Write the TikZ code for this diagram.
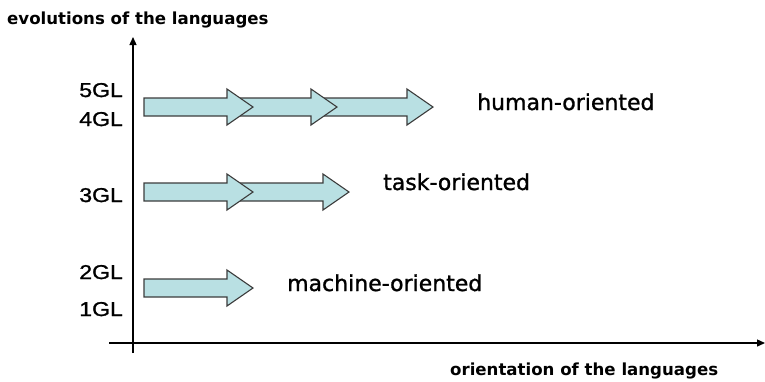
\documentclass[tikz,border=0pt]{standalone}
\usepackage{fontspec}
\usepackage{graphicx}
\setmainfont{DejaVu Sans}
\newfontfamily\arialfont[FakeBold=1.2]{Liberation Sans}
\newfontfamily\labelfont[FakeBold=1.2]{DejaVu Sans}
\usetikzlibrary{arrows.meta}
\definecolor{arrowfill}{RGB}{185,224,227}
\definecolor{arrowline}{RGB}{60,60,60}
\tikzset{
  axisline/.style={line width=1.3pt, black, -{Triangle[length=8pt,width=7pt]}},
  axislabel/.style={font=\bfseries\fontsize{16.6}{19}\selectfont, inner sep=0pt},
  gllabel/.style={font=\arialfont\fontsize{20}{24}\selectfont, inner sep=0pt, anchor=base east},
  orientlabel/.style={font=\labelfont\fontsize{22}{26}\selectfont, inner sep=0pt, anchor=base west},
  blockarrowstyle/.style={fill=arrowfill, draw=arrowline, line width=1.1pt, line join=miter},
  blockarrow/.pic={\path[blockarrowstyle] (0,-9) -- (83,-9) -- (83,-18) -- (109,0) -- (83,18) -- (83,9) -- (0,9) -- cycle;}
}
\begin{document}
\begin{tikzpicture}[x=1pt,y=-1pt]
\useasboundingbox (0,0) rectangle (765,381);
% axes
\coordinate (vbot) at (133,353);
\coordinate (vtop) at (133,37);
\coordinate (hleft) at (109,343);
\coordinate (hright) at (765,343);
\draw[axisline] (vbot) -- (vtop);
\draw[axisline] (hleft) -- (hright);
\node[axislabel, anchor=base west] (ytitle) at (7,24) {evolutions of the languages};
\node[axislabel, anchor=base west] (xtitle) at (450,375) {orientation of the languages};
% GL labels
\node[gllabel] (gl5) at (123,97) {\scalebox{1.15}[1]{5GL}};
\node[gllabel] (gl4) at (123,126) {\scalebox{1.15}[1]{4GL}};
\node[gllabel] (gl3) at (123,202) {\scalebox{1.15}[1]{3GL}};
\node[gllabel] (gl2) at (123,279) {\scalebox{1.15}[1]{2GL}};
\node[gllabel] (gl1) at (123,316) {\scalebox{1.15}[1]{1GL}};
% row 1 (drawn right to left so left arrows lie on top)
\pic at (324,107) {blockarrow};
\pic at (228,107) {blockarrow};
\pic at (144,107) {blockarrow};
% row 2
\pic at (240,192) {blockarrow};
\pic at (144,192) {blockarrow};
% row 3
\pic at (144,288) {blockarrow};
% orientation labels
\node[orientlabel] (human) at (477,110) {human-oriented};
\node[orientlabel] (task) at (383,190) {task-oriented};
\node[orientlabel] (machine) at (287,291) {machine-oriented};
\end{tikzpicture}
\end{document}
